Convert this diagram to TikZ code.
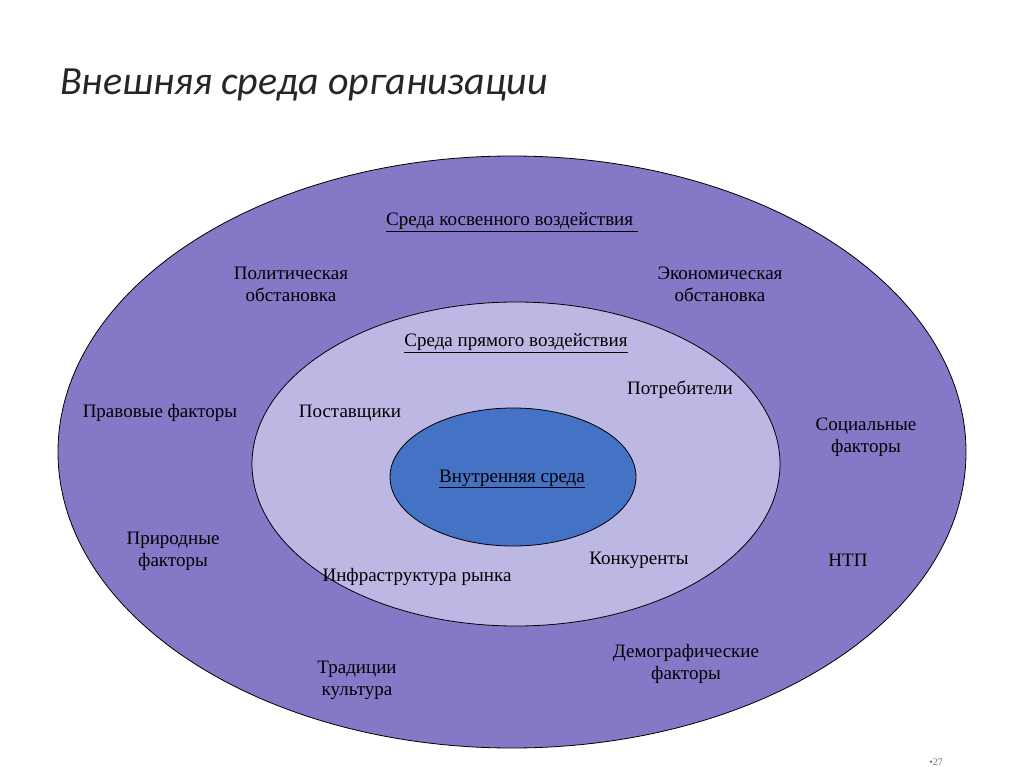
\documentclass[tikz,border=0pt]{standalone}
\usepackage{fontspec}
\setmainfont{Liberation Serif}
\newfontfamily\titlefont{Carlito}
\begin{document}
\begin{tikzpicture}[x=1pt,y=-1pt,
  lbl/.style={font=\fontsize{19}{22}\selectfont, align=center, inner sep=0pt},
  ring/.style={draw=black, line width=0.8pt}]
\useasboundingbox (0,0) rectangle (1024,767);
\fill[white] (0,0) rectangle (1024,767);
\definecolor{outerc}{HTML}{8479C6}
\definecolor{midc}{HTML}{BDB7E3}
\definecolor{innc}{HTML}{4472C4}
\node[anchor=west, inner sep=0pt, font=\titlefont\itshape\fontsize{40}{44}\selectfont, text=black!85] (title) at (60,85) {Внешняя среда организации};
\draw[ring, fill=outerc] (512,452) ellipse [x radius=454, y radius=296];
\draw[ring, fill=midc] (516,464) ellipse [x radius=264, y radius=162];
\draw[ring, fill=innc] (513,477) ellipse [x radius=123, y radius=69];
\node[lbl] (kos) at (512,222) {\underline{Среда косвенного воздействия }};
\node[lbl] (pol) at (291,284) {Политическая\\обстановка};
\node[lbl] (eco) at (720,284) {Экономическая\\обстановка};
\node[lbl] (pr) at (516,343) {\underline{Среда прямого воздействия}};
\node[lbl] (potr) at (680,390) {Потребители};
\node[lbl] (prav) at (160,413) {Правовые факторы};
\node[lbl] (post) at (350,413) {Поставщики};
\node[lbl] (soc) at (866,437) {Социальные\\факторы};
\node[lbl] (vn) at (512,479) {\underline{Внутренняя среда}};
\node[lbl] (prir) at (173,551) {Природные\\факторы};
\node[lbl] (kon) at (639,560) {Конкуренты};
\node[lbl] (ntp) at (848,560) {НТП};
\node[lbl] (inf) at (417,577) {Инфраструктура рынка};
\node[lbl] (dem) at (686,664) {Демографические\\факторы};
\node[lbl] (trad) at (357,680) {Традиции\\культура};
\node[inner sep=0pt, font=\fontsize{10}{12}\selectfont, text=black!55] (pg) at (936,762) {•27};
\end{tikzpicture}
\end{document}
